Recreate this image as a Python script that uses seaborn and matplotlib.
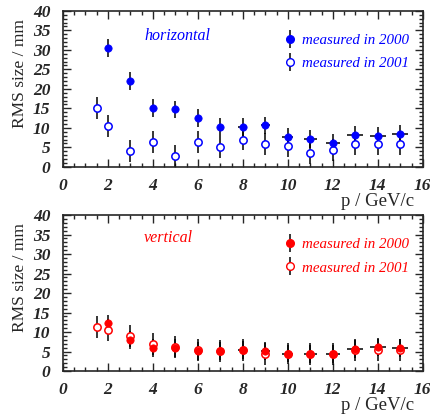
import numpy as np
import pandas as pd
import seaborn as sns
import matplotlib.pyplot as plt
from matplotlib.ticker import MultipleLocator
from matplotlib.lines import Line2D

# data
p_2000 = [2, 3, 4, 5, 6, 7, 8, 9, 10, 11, 12, 13, 14, 15]
p_2001 = [1.5, 2, 3, 4, 5, 6, 7, 8, 9, 10, 11, 12, 13, 14, 15]

hor_2000 = [30.4, 22.0, 15.2, 14.7, 12.4, 10.3, 10.2, 10.6, 7.7, 7.1, 6.2, 8.2, 7.9, 8.3]
hor_2001 = [15.0, 10.5, 4.0, 6.3, 2.8, 6.3, 5.1, 7.0, 5.9, 5.3, 3.6, 4.3, 5.9, 5.8, 5.9]
ver_2000 = [12.2, 8.0, 5.9, 6.0, 5.1, 5.05, 5.5, 5.05, 4.5, 4.45, 4.45, 5.65, 6.2, 6.0]
ver_2001 = [11.4, 10.6, 8.9, 6.9, 6.1, 5.5, 5.1, 5.5, 4.3, 4.5, 4.45, 4.45, 5.4, 5.4, 5.4]

err_2000 = [2.3] * 14
err_2001 = [2.8] * 15
xerr_2000 = [0, 0, 0, 0, 0, 0, 0.2, 0.2, 0.25, 0.3, 0.3, 0.35, 0.35, 0.35]

sns.set_style("ticks")
plt.rcParams['font.family'] = ['Liberation Serif', 'DejaVu Serif']

fig = plt.figure(figsize=(4.31, 4.16), dpi=100)
ax1 = fig.add_axes([0.146, 0.599, 0.835, 0.375])
ax2 = fig.add_axes([0.146, 0.108, 0.835, 0.375])


def panel(ax, y00, y01, color, label, lx, ly):
    # black error bars first, then markers on top
    ax.errorbar(p_2000, y00, yerr=err_2000, xerr=xerr_2000, fmt='none',
                ecolor='black', elinewidth=1.1, capsize=0, zorder=2)
    ax.errorbar(p_2001, y01, yerr=err_2001, fmt='none',
                ecolor='black', elinewidth=1.1, capsize=0, zorder=2)
    df0 = pd.DataFrame({'p': p_2000, 'rms': y00})
    df1 = pd.DataFrame({'p': p_2001, 'rms': y01})
    sns.scatterplot(data=df1, x='p', y='rms', ax=ax, marker='o', s=28,
                    facecolor='white', edgecolor=color, linewidth=1.1, zorder=3)
    sns.scatterplot(data=df0, x='p', y='rms', ax=ax, marker='o', s=28,
                    color=color, edgecolor=color, linewidth=0.5, zorder=4)

    ax.set_xlim(0, 16)
    ax.set_ylim(0, 40)
    ax.xaxis.set_major_locator(MultipleLocator(2))
    ax.xaxis.set_minor_locator(MultipleLocator(0.5))
    ax.yaxis.set_major_locator(MultipleLocator(5))
    ax.yaxis.set_minor_locator(MultipleLocator(1))
    ax.tick_params(which='both', direction='in', top=True, right=True,
                   labelsize=12.5, width=1)
    ax.tick_params(axis='x', pad=8)
    ax.tick_params(axis='y', pad=9)
    ax.tick_params(which='major', length=6)
    ax.tick_params(which='minor', length=3)
    for lab in ax.get_xticklabels() + ax.get_yticklabels():
        lab.set_fontweight('bold')
        lab.set_fontstyle('italic')
    for sp in ax.spines.values():
        sp.set_linewidth(1.2)

    ax.set_xlabel('p / GeV/c', fontsize=13.5, ha='right')
    ax.xaxis.set_label_coords(0.975, -0.165)
    ax.set_ylabel('RMS size / mm', fontsize=12.5)
    ax.yaxis.set_label_coords(-0.097, 0.6)

    ax.text(lx, ly, label, color=color, fontsize=11.5, fontstyle='italic',
            ha='center', va='center')

    bar = Line2D([], [], marker='|', color='black', lw=0, markersize=13,
                 markeredgewidth=1.1)
    h0 = Line2D([], [], marker='o', color='black', lw=0, markersize=5.5,
                markerfacecolor=color, markeredgecolor=color)
    h1 = Line2D([], [], marker='o', color='black', lw=0, markersize=5.5,
                markerfacecolor='white', markeredgecolor=color)
    leg = ax.legend([(bar, h0), (bar, h1)], ['measured in 2000', 'measured in 2001'],
                    loc='upper right', bbox_to_anchor=(1.0, 0.94), frameon=False,
                    handlelength=1.0, handletextpad=0.3, labelspacing=0.65,
                    prop={'style': 'italic', 'size': 10.8})
    for t in leg.get_texts():
        t.set_color(color)


panel(ax1, hor_2000, hor_2001, '#0000ff', 'horizontal', 5.1, 33.6)
panel(ax2, ver_2000, ver_2001, '#ff0000', 'vertical', 4.7, 34.0)

plt.savefig('out.png', dpi=100)
